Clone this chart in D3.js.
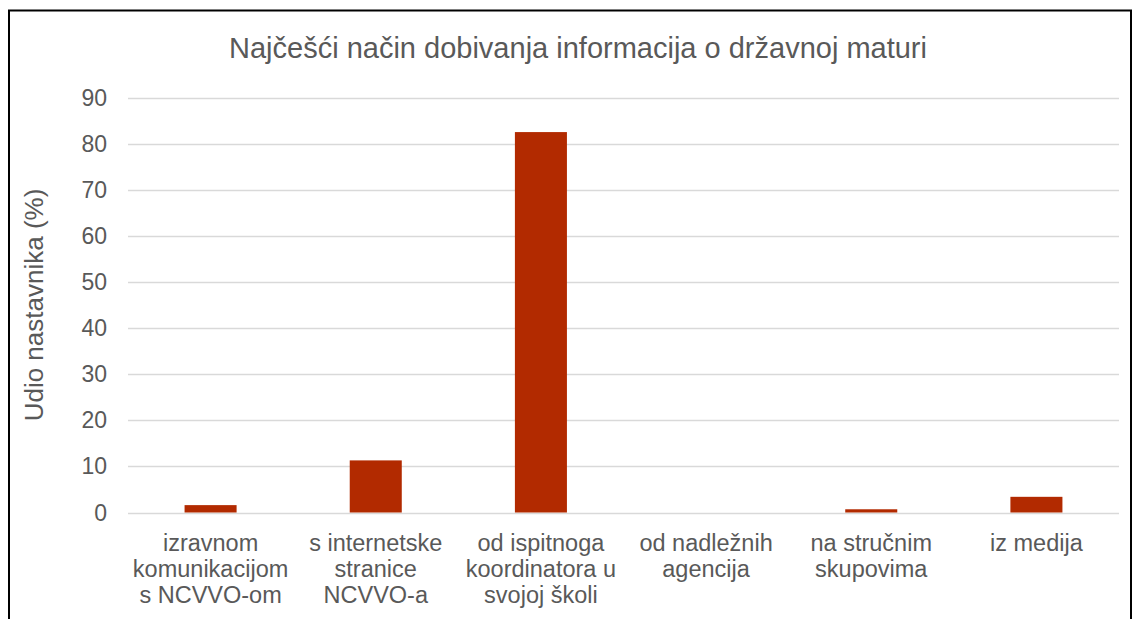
<!DOCTYPE html>
<html>
<head>
<meta charset="utf-8">
<script src="https://cdn.jsdelivr.net/npm/d3@7"></script>
<style>
  body { margin: 0; background: #fff; }
  text { font-family: "Liberation Sans", Arial, sans-serif; }
</style>
</head>
<body>
<div id="chart"></div>
<script>
// podaci
const categories = [
    ['izravnom', 'komunikacijom', 's NCVVO-om'],
    ['s internetske', 'stranice', 'NCVVO-a'],
    ['od ispitnoga', 'koordinatora u', 'svojoj školi'],
    ['od nadležnih', 'agencija'],
    ['na stručnim', 'skupovima'],
    ['iz medija']
]
const values = [1.6, 11.3, 82.5, 0, 0.7, 3.4]
const yTicks = [0, 10, 20, 30, 40, 50, 60, 70, 80, 90]

const width = 1134
const height = 619
const margin = { left: 128, right: 15, top: 97.5, bottom: 106.5 }
const textColor = '#595959'

const svg = d3.select('#chart').append('svg')
    .attr('width', width)
    .attr('height', height)

// okvir
svg.append('rect')
    .attr('x', 9)
    .attr('y', 10.5)
    .attr('width', 1122)
    .attr('height', 640)
    .attr('fill', 'none')
    .attr('stroke', '#000')
    .attr('stroke-width', 2)

const x = d3.scaleBand()
    .domain(d3.range(categories.length))
    .range([margin.left, width - margin.right])
    .paddingInner(0.685)
    .paddingOuter(0.3425)

const y = d3.scaleLinear()
    .domain([0, 90])
    .range([height - margin.bottom, margin.top])

// mreža
svg.append('g')
    .selectAll('line')
    .data(yTicks)
    .enter()
    .append('line')
    .attr('x1', margin.left)
    .attr('x2', width - margin.right)
    .attr('y1', d => Math.round(y(d)) + 0.5)
    .attr('y2', d => Math.round(y(d)) + 0.5)
    .attr('stroke', '#d9d9d9')
    .attr('stroke-width', d => d === 0 ? 1.5 : 1.3)

// oznake osi y
svg.append('g')
    .selectAll('text')
    .data(yTicks)
    .enter()
    .append('text')
    .attr('x', 107)
    .attr('y', d => y(d))
    .attr('dy', '0.35em')
    .attr('text-anchor', 'end')
    .attr('font-size', '23px')
    .attr('fill', textColor)
    .text(d => d)

// stupci
svg.append('g')
    .selectAll('rect')
    .data(values)
    .enter()
    .append('rect')
    .attr('x', (d, i) => x(i))
    .attr('width', x.bandwidth())
    .attr('y', d => y(d))
    .attr('height', d => y(0) - y(d))
    .attr('fill', '#b22a00')

// kategorije
svg.append('g')
    .selectAll('text')
    .data(categories)
    .enter()
    .append('text')
    .attr('text-anchor', 'middle')
    .attr('font-size', '23.5px')
    .attr('fill', textColor)
    .each(function (lines, i) {
        const cx = x(i) + x.bandwidth() / 2
        d3.select(this).selectAll('tspan')
            .data(lines)
            .enter()
            .append('tspan')
            .attr('x', cx)
            .attr('y', (d, j) => 551 + j * 25.8)
            .text(d => d)
    })

// naslov osi y
svg.append('text')
    .attr('transform', `translate(43, ${(y(0) + y(90)) / 2}) rotate(-90)`)
    .attr('text-anchor', 'middle')
    .attr('font-size', '26px')
    .attr('fill', textColor)
    .text('Udio nastavnika (%)')

// naslov
svg.append('text')
    .attr('x', 578)
    .attr('y', 58)
    .attr('text-anchor', 'middle')
    .attr('font-size', '29px')
    .attr('fill', textColor)
    .text('Najčešći način dobivanja informacija o državnoj maturi')
</script>
</body>
</html>
